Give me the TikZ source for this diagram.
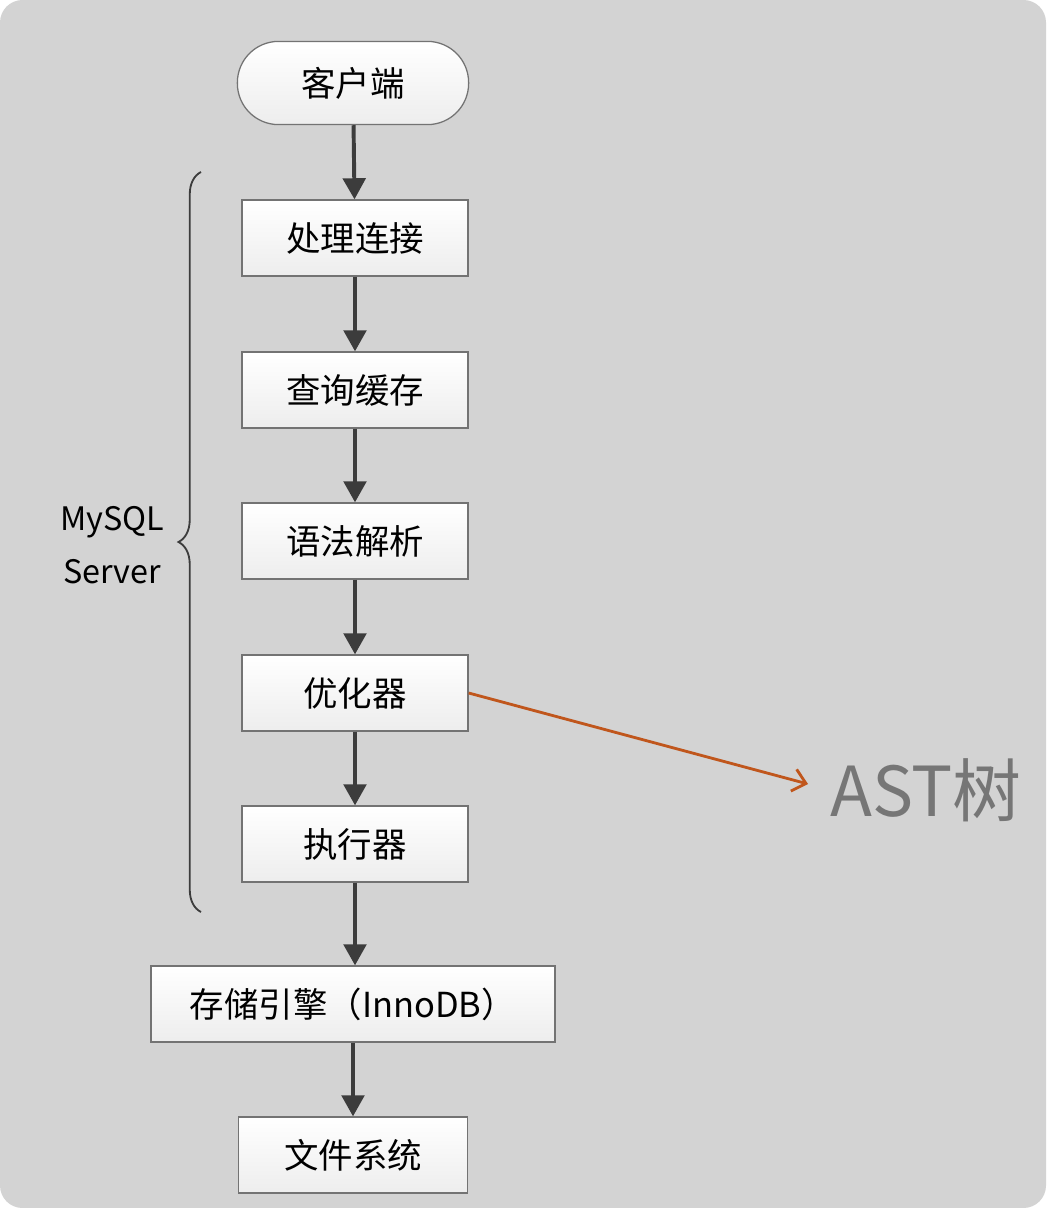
\documentclass[tikz,border=0pt]{standalone}
\usepackage{fontspec}
\setmainfont{Noto Sans CJK SC}
\usetikzlibrary{arrows.meta,decorations.pathreplacing}

\definecolor{panelgray}{HTML}{D3D3D3}
\definecolor{linegray}{HTML}{3C3C3C}
\definecolor{astorange}{HTML}{C0561C}
\definecolor{astgray}{HTML}{767676}

\tikzset{
	stepbox/.style = {draw = black!55, line width = 0.9pt, top color = white, bottom color = black!7,
		minimum width = 5.65cm, minimum height = 1.9cm, inner sep = 0pt,
		font = \fontsize{24.5}{28}\selectfont},
	flow/.style = {draw = linegray, line width = 2.8pt, -{Triangle[length = 15pt, width = 16pt]}},
}

\begin{document}
\begin{tikzpicture}[x = 0.025cm, y = -0.025cm]

	% Background

	\useasboundingbox (0, 0) rectangle (1046, 1208);
	\fill [white] (0, 0) rectangle (1046, 1208);
	\fill [panelgray, rounded corners = 16pt] (0, 0) rectangle (1046, 1208);

	% Steps

	\node [stepbox, rounded corners = 1.03cm, minimum width = 5.78cm, minimum height = 2.08cm] (client) at (353, 83) {客户端};
	\node [stepbox] (conn) at (355, 238) {处理连接};
	\node [stepbox] (cache) at (355, 390) {查询缓存};
	\node [stepbox] (parse) at (355, 541) {语法解析};
	\node [stepbox] (optim) at (355, 693) {优化器};
	\node [stepbox] (exec) at (355, 844) {执行器};
	\node [stepbox, minimum width = 10.1cm] (engine) at (353, 1004) {存储引擎（InnoDB）};
	\node [stepbox, minimum width = 5.73cm] (fs) at (353, 1155) {文件系统};

	% Flow

	\draw [flow] (client) -- (conn);
	\draw [flow] (conn) -- (cache);
	\draw [flow] (cache) -- (parse);
	\draw [flow] (parse) -- (optim);
	\draw [flow] (optim) -- (exec);
	\draw [flow] (exec.south) -- (exec.south |- engine.north);
	\draw [flow] (engine) -- (fs);

	% Server brace

	\coordinate (braceTop) at (201, 172);
	\coordinate (braceBot) at (201, 912);
	\draw [linegray, line width = 1.3pt, decorate, decoration = {brace, amplitude = 16pt}] (braceBot) -- (braceTop);
	\node [align = center, font = \fontsize{23}{38}\selectfont] (server) at (112, 545) {MySQL\\Server};

	% AST

	\node [text = astgray, font = \fontsize{49}{56}\selectfont] (ast) at (926, 790) {AST树};
	\coordinate (astTip) at (808, 784);
	\draw [astorange, line width = 2pt, -{Straight Barb[length = 9pt, width = 16pt, line width = 2pt]}] (optim.east) -- (astTip);

\end{tikzpicture}
\end{document}
